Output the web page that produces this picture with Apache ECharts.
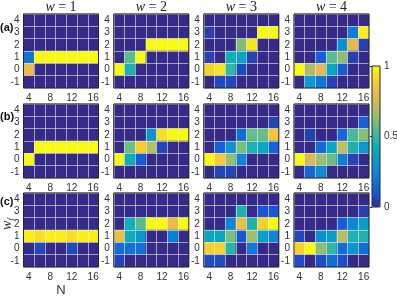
<!DOCTYPE html>
<html><head><meta charset="utf-8">
<script src="https://cdn.jsdelivr.net/npm/echarts@6/dist/echarts.min.js"></script>
<style>html,body{margin:0;padding:0;background:#fff}#c{width:397px;height:297px}</style>
</head><body><div id="c"></div>
<script>
// Categories
const nLabels = ['4','6','8','10','12','14','16'];
const wfLabels = ['-1','0','1','2','3','4']; // bottom to top
const wTitles = ['1','2','3','4'];
const rowTags = ['(a)','(b)','(c)'];
const cbTicks = [0, 0.5, 1];

// Panel values: rows listed top to bottom (w_f = 4,3,2,1,0,-1), columns N = 4..16
const a_w1 = [
 [0,0,0,0,0,0,0],
 [0,0,0,0,0,0,0],
 [0,0,0,0,0,0,0],
 [0.2,1,1,1,1,1,1],
 [0.8,0,0,0,0,0,0],
 [0,0,0,0,0,0,0]];
const a_w2 = [
 [0,0,0,0,0,0,0],
 [0,0,0,0,0,0,0],
 [0,0,0,1,1,1,1],
 [0,0.55,1,0,0,0,0],
 [1,0.45,0,0,0,0,0],
 [0,0,0,0,0,0,0]];
const a_w3 = [
 [0,0,0,0,0,0,0],
 [0.05,0,0,0,0,1,1],
 [0,0,0,0.6,0.95,0,0],
 [0.05,0,0.43,0.38,0.06,0,0],
 [0.9,0.95,0.5,0.07,0,0,0],
 [0,0.07,0.07,0,0,0,0]];
const a_w4 = [
 [0,0,0,0,0,0,0],
 [0,0,0,0,0,0.22,0.97],
 [0,0,0,0,0.28,0.78,0.05],
 [0,0,0.12,0.55,0.63,0.05,0],
 [1,0.68,0.78,0.4,0.12,0,0],
 [0,0.33,0.2,0.06,0,0,0]];
const b_w1 = [
 [0,0,0,0,0,0,0],
 [0,0,0,0,0,0,0],
 [0,0,0,0,0,0,0],
 [0,1,1,1,1,1,1],
 [1,0,0,0,0,0,0],
 [0,0,0,0,0,0,0]];
const b_w2 = [
 [0,0,0,0,0,0,0],
 [0,0,0,0,0,0,0],
 [0,0,0,0.3,0.93,1,1],
 [0,0.58,0.88,0.7,0.06,0,0],
 [1,0.42,0.12,0,0,0,0],
 [0,0,0,0,0,0,0]];
const b_w3 = [
 [0,0,0,0,0,0,0],
 [0,0,0,0,0,0,0.06],
 [0,0,0,0.17,0.57,0.57,0.85],
 [0,0.13,0.3,0.6,0.45,0.4,0.14],
 [1,0.87,0.65,0.25,0,0,0],
 [0,0.06,0.06,0,0,0,0]];
const b_w4 = [
 [0,0,0,0,0,0,0],
 [0,0,0,0,0,0,0.12],
 [0,0.05,0,0,0.15,0.53,0.62],
 [0,0,0.17,0.4,0.73,0.45,0.32],
 [1,0.77,0.66,0.58,0.22,0.06,0],
 [0,0.15,0.27,0,0,0,0]];
const c_w1 = [
 [0,0,0,0,0,0,0],
 [0,0,0,0,0,0,0],
 [0,0,0,0,0,0,0],
 [0.97,0.93,0.97,0.97,0.93,0.97,0.97],
 [0,0.07,0,0,0.07,0,0],
 [0,0,0,0,0,0,0]];
const c_w2 = [
 [0,0,0,0,0,0,0],
 [0,0,0,0,0,0,0],
 [0,0.43,0.55,1,1,0.8,1],
 [0.82,0.42,0.3,0,0,0.22,0],
 [0.17,0.18,0.18,0,0,0,0],
 [0.06,0,0,0,0,0,0]];
const c_w3 = [
 [0,0,0,0,0,0,0],
 [0,0,0,0.45,0,0.1,0.1],
 [0,0,0.25,0.82,0.45,0.9,1],
 [0.4,0.4,0.6,0.1,0.66,0.35,0.25],
 [0.9,0.9,0.47,0,0.2,0,0],
 [0.08,0.08,0,0,0,0,0]];
const c_w4 = [
 [0,0,0,0,0,0,0],
 [0,0,0,0,0,0,0.05],
 [0,0,0,0,0.13,0.25,0.35],
 [0.06,0,0.28,0.35,0.7,0.45,0.45],
 [0.9,1,0.64,0.5,0.17,0.3,0.17],
 [0.08,0,0.08,0.17,0.08,0,0]];

const panels = [a_w1,a_w2,a_w3,a_w4,b_w1,b_w2,b_w3,b_w4,c_w1,c_w2,c_w3,c_w4];

const parula = ['#352a87','#1a55d7','#0f77db','#0c93d2','#07a9c2','#33b8a1','#7abf7c','#b7bd64','#ecb94c','#fad12b','#f9fb0e'];

// layout
const lefts = [23.5, 113.8, 203.8, 294];
const tops = [14, 104, 193];
const PW = 75, PH = 74;
const txt = '#333';
const sans = 'Liberation Sans';

const grids = [], xAxes = [], yAxes = [], series = [], titles = [];
panels.forEach((p, k) => {
  const r = Math.floor(k / 4), c = k % 4;
  grids.push({left: lefts[c], top: tops[r], width: PW, height: PH, show: true,
    outerBoundsMode: 'none', containLabel: false,
    borderColor: '#262626', borderWidth: 1, backgroundColor: 'transparent', z: 10});
  const isN = (r === 2 && c === 0);
  xAxes.push({type: 'category', gridIndex: k, data: nLabels, z: 5,
    axisLine: {show: false}, axisTick: {show: false},
    axisLabel: {interval: 1, margin: 5, fontSize: 10, color: txt, fontFamily: sans},
    splitLine: {show: true, interval: 0, lineStyle: {color: 'rgba(235,235,235,0.6)', width: 1}},
    name: isN ? 'N' : '', nameLocation: 'middle', nameGap: 17, nameMoveOverlap: false,
    nameTextStyle: {fontSize: 13, color: txt, fontFamily: sans}});
  const isWf = (r === 2 && c === 0);
  yAxes.push({type: 'category', gridIndex: k, data: wfLabels, z: 5,
    axisLine: {show: false}, axisTick: {show: false},
    axisLabel: {interval: 0, margin: 4, fontSize: 10, color: txt, fontFamily: sans},
    splitLine: {show: true, interval: 0, lineStyle: {color: 'rgba(235,235,235,0.6)', width: 1}},
    name: isWf ? '{w|w}{f|f}' : '', nameLocation: 'middle', nameGap: 8, nameRotate: 90,
    nameMoveOverlap: false,
    nameTextStyle: {color: txt, padding: [0, 0, 0, 12], rich: {
      w: {fontFamily: 'Liberation Serif', fontStyle: 'italic', fontSize: 14, lineHeight: 16, color: txt},
      f: {fontFamily: 'Liberation Serif', fontStyle: 'italic', fontSize: 9, lineHeight: 16, verticalAlign: 'bottom', color: txt}}}});
  const data = [];
  p.forEach((row, ri) => row.forEach((v, ci) => data.push([ci, 5 - ri, v])));
  series.push({type: 'heatmap', xAxisIndex: k, yAxisIndex: k, data: data,
    emphasis: {disabled: true}, progressive: 0, z: 2});
});
// colorbar axis
grids.push({left: 372, top: 66, width: 8, height: 141, show: true,
  outerBoundsMode: 'none', containLabel: false,
  borderColor: '#262626', borderWidth: 1, backgroundColor: 'transparent', z: 10});
xAxes.push({type: 'value', gridIndex: 12, show: false, min: 0, max: 1});
yAxes.push({type: 'value', gridIndex: 12, min: cbTicks[0], max: cbTicks[2], interval: cbTicks[1],
  position: 'right', z: 11, axisLine: {show: false},
  axisTick: {show: true, inside: true, length: 2, lineStyle: {color: '#262626'}},
  splitLine: {show: false},
  axisLabel: {margin: 4, fontSize: 10, color: txt, fontFamily: sans,
    formatter: v => String(v)}});

wTitles.forEach((w, c) => titles.push({text: '{i|w} = ' + w, left: lefts[c] + PW / 2, top: 0,
  textAlign: 'center', padding: 0,
  textStyle: {fontFamily: 'Liberation Serif', fontSize: 14, fontWeight: 'normal', color: '#222',
    rich: {i: {fontFamily: 'Liberation Serif', fontStyle: 'italic', fontSize: 14, color: '#222'}}}}));
const tagTops = [22, 111, 196];
rowTags.forEach((t, r) => titles.push({text: t, left: 0, top: tagTops[r], padding: 0,
  textStyle: {fontFamily: sans, fontSize: 11, fontWeight: 'bold', color: '#111'}}));

const chart = echarts.init(document.getElementById('c'), null, {renderer: 'canvas'});
chart.setOption({
  animation: false,
  title: titles,
  grid: grids, xAxis: xAxes, yAxis: yAxes, series: series,
  visualMap: {type: 'continuous', min: 0, max: 1, seriesIndex: series.map((s, i) => i),
    calculable: false, show: true, left: 372, top: 66, itemWidth: 8, itemHeight: 141,
    padding: 0, text: null, showLabel: false, orient: 'vertical',
    inRange: {color: parula}}
});
</script></body></html>
